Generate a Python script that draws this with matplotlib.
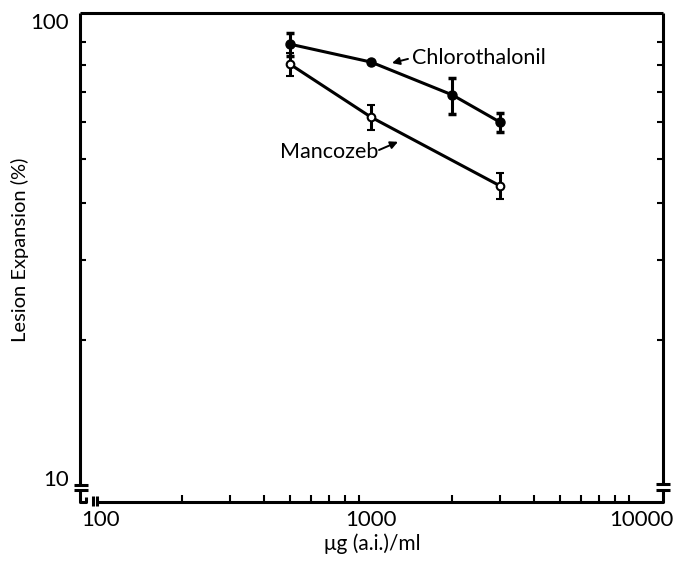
import numpy as np
import matplotlib
matplotlib.use("Agg")
import matplotlib.pyplot as plt
from matplotlib.ticker import FixedLocator, NullFormatter, FixedFormatter

plt.rcParams['font.family'] = ['Lato', 'DejaVu Sans']

# Datos
dosis_chloro = [500, 1000, 2000, 3000]
lesion_chloro = [89.0, 81.3, 68.9, 60.1]
err_chloro = [5.3, 0.0, 6.2, 2.9]

dosis_manco = [500, 1000, 3000]
lesion_manco = [80.5, 61.6, 43.6]
err_manco = [4.8, 3.9, 2.9]

x_ticks_labels = [100, 1000, 10000]
y_ticks_labels = [10, 100]

fig = plt.figure(figsize=(6.75, 5.62), dpi=100)
ax = fig.add_axes([80 / 675, 60 / 562, 583 / 675, 489 / 562])
ax.set_xscale('log')
ax.set_yscale('log')
ax.set_xlim(83.6, 12066)
ax.set_ylim(8.86, 104.1)

lw = 2.2
ax.errorbar(dosis_chloro, lesion_chloro, yerr=err_chloro, color='black', lw=lw,
            marker='o', ms=6.5, mfc='black', mec='black', capsize=3, capthick=2.5,
            elinewidth=2.2, zorder=3)
ax.errorbar(dosis_manco, lesion_manco, yerr=err_manco, color='black', lw=lw,
            marker='o', ms=5.5, mfc='white', mec='black', mew=1.5, capsize=3,
            capthick=2.5, elinewidth=2.2, zorder=3)

# Textos con flechas
ax.annotate('', xy=(1196, 80.9), xytext=(1371, 82.6),
            arrowprops=dict(arrowstyle='-|>', color='black', lw=1.4, mutation_scale=11,
                            shrinkA=0, shrinkB=0))
ax.text(1419, 83.0, 'Chlorothalonil', fontsize=15.5, va='center', ha='left')
ax.text(1062, 51.7, 'Mancozeb', fontsize=15.5, va='center', ha='right')
ax.annotate('', xy=(1259, 54.4), xytext=(1071, 52.2),
            arrowprops=dict(arrowstyle='-|>', color='black', lw=1.4, mutation_scale=11,
                            shrinkA=0, shrinkB=0))

# Ejes
for s in ax.spines.values():
    s.set_visible(False)

ax.xaxis.set_major_locator(FixedLocator(x_ticks_labels))
ax.xaxis.set_major_formatter(FixedFormatter([str(v) for v in x_ticks_labels]))
ax.xaxis.set_minor_locator(FixedLocator([200, 300, 400, 500, 600, 700, 800, 900, 1000,
                                         2000, 3000, 4000, 5000, 6000, 7000, 8000, 9000]))
ax.xaxis.set_minor_formatter(NullFormatter())
ax.tick_params(axis='x', which='major', length=0, pad=6, labelsize=16)
ax.tick_params(axis='x', which='minor', direction='in', length=5, width=1.5)

ax.yaxis.set_major_locator(FixedLocator(y_ticks_labels))
ax.yaxis.set_major_formatter(FixedFormatter([str(v) for v in y_ticks_labels]))
ax.yaxis.set_minor_locator(FixedLocator([20, 30, 40, 50, 60, 70, 80, 90, 100]))
ax.yaxis.set_minor_formatter(NullFormatter())
ax.tick_params(axis='y', which='major', length=0, pad=8, labelsize=16)
ax.tick_params(axis='y', which='minor', direction='in', length=4, width=1.5,
               left=True, right=True)

# Bordes con cortes dibujados a mano (coordenadas de ejes)
tr = ax.transAxes
k = dict(color='black', lw=2.2, transform=tr, clip_on=False, solid_capstyle='butt')
W, H = 583.0, 489.0
def px(x, y):
    return (x - 80) / W, (502 - y) / H

# superior
ax.plot(*zip(px(80, 13), px(663, 13)), **k)
# izquierdo con corte
ax.plot(*zip(px(80, 13), px(80, 485)), **k)
ax.plot(*zip(px(74, 485), px(88, 485)), **k)
ax.plot(*zip(px(74, 490), px(88, 490)), **k)
ax.plot(*zip(px(80, 490), px(80, 502), px(86, 502), px(86, 497)), **k)
# inferior con corte
ax.plot(*zip(px(93, 496), px(93, 506)), **k)
ax.plot(*zip(px(97, 496), px(97, 506)), **k)
ax.plot(*zip(px(97, 502), px(663, 502), px(663, 491)), **k)
# derecho con corte
ax.plot(*zip(px(663, 13), px(663, 484)), **k)
ax.plot(*zip(px(656, 484), px(670, 484)), **k)
ax.plot(*zip(px(656, 490), px(670, 490)), **k)

fig.text(20 / 675, 1 - 250 / 562, 'Lesion Expansion (%)', rotation=90,
         fontsize=14.5, ha='center', va='center')
fig.text(372 / 675, 1 - 544 / 562, 'μg (a.i.)/ml', fontsize=15, ha='center', va='center')

fig.savefig('out.png', dpi=100)
